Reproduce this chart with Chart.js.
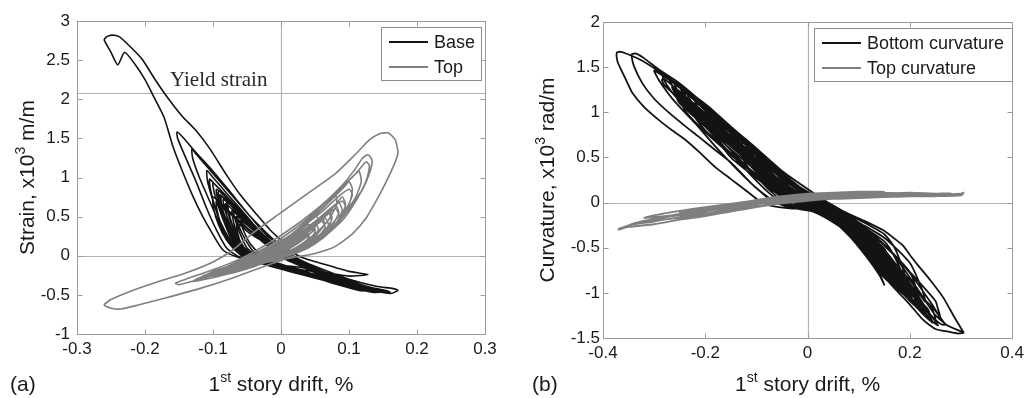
<!DOCTYPE html>
<html lang="en">
<head>
<meta charset="UTF-8">
<title>Strain and curvature vs 1st story drift</title>
<style>
  body { margin: 0; background: #fff; }
  #wrap { position: relative; width: 1029px; height: 398px; }
  canvas { position: absolute; top: 0; }
  #chartA { left: 0; }
  #chartB { left: 520px; }
</style>
</head>
<body>
<div id="wrap">
  <canvas id="chartA" width="515" height="398"></canvas>
  <canvas id="chartB" width="509" height="398"></canvas>
</div>

<script src="https://cdn.jsdelivr.net/npm/chart.js"></script>
<script>
const FONT = '"Liberation Sans", Arial, sans-serif';
const BLACK = '#131313';
const GREY = '#7f7f7f';

// ---- panel (a): strain ----
const aXTicks = [-0.3, -0.2, -0.1, 0, 0.1, 0.2, 0.3];
const aYTicks = [-1, -0.5, 0, 0.5, 1, 1.5, 2, 2.5, 3];
const yieldStrain = 2.08;
const aXTitle = [['1', false], ['st', true], [' story drift, %', false]];
const aYTitle = [['Strain, x10', false], ['3', true], [' m/m', false]];

// drift %, strain x10^3 (loop by loop)
const basePath = [
  [0.0,0.2],[-0.016,0.33],[-0.035,0.52],[-0.06,0.78],[-0.08,1.03],[-0.104,1.36],[-0.125,1.6],[-0.145,1.78],[-0.165,2.0],[-0.185,2.25],[-0.205,2.52],[-0.225,2.7],[-0.238,2.8],[-0.248,2.82],[-0.256,2.8],[-0.26,2.76],
  [-0.25,2.6],[-0.24,2.44],[-0.23,2.6],[-0.215,2.45],[-0.2,2.25],[-0.187,2.03],[-0.172,1.77],[-0.159,1.4],[-0.145,1.08],[-0.129,0.75],[-0.115,0.5],[-0.104,0.33],[-0.085,0.07],[-0.06,-0.03],[-0.02,-0.12],
  [0.02,-0.2],[0.06,-0.29],[0.1,-0.37],[0.13,-0.43],[0.15,-0.47],[0.163,-0.48],[0.172,-0.44],[0.165,-0.42],[0.14,-0.39],[0.1,-0.3],[0.06,-0.17],[0.03,-0.06],[0.01,0.05],[0.0,0.12],
  [-0.02,0.28],[-0.045,0.5],[-0.075,0.82],[-0.1,1.08],[-0.125,1.32],[-0.145,1.52],[-0.153,1.58],[-0.152,1.5],[-0.14,1.25],[-0.125,0.95],[-0.11,0.62],[-0.095,0.33],[-0.08,0.1],[-0.06,-0.02],[-0.02,-0.1],[0.03,-0.15],[0.07,-0.22],[0.1,-0.26],[0.128,-0.24],[0.1,-0.2],[0.06,-0.1],[0.03,-0.02],[0.01,0.08],
  [-0.02,0.25],[-0.05,0.55],[-0.08,0.85],[-0.105,1.1],[-0.125,1.3],[-0.131,1.37],[-0.13,1.25],[-0.12,1.0],[-0.105,0.7],[-0.09,0.4],[-0.075,0.15],[-0.05,0.0],[-0.01,-0.12],[0.04,-0.24],[0.09,-0.35],[0.13,-0.43],[0.15,-0.45],[0.12,-0.38],[0.08,-0.26],[0.04,-0.12],[0.01,0.02],
  [-0.02,0.2],[-0.05,0.5],[-0.08,0.8],[-0.1,1.0],[-0.109,1.09],[-0.108,0.95],[-0.1,0.7],[-0.09,0.45],[-0.075,0.2],[-0.06,0.02],[-0.03,-0.08],[0.02,-0.2],[0.07,-0.32],[0.11,-0.4],[0.14,-0.44],[0.115,-0.36],[0.07,-0.24],[0.03,-0.1],[0.0,0.03],
  [-0.03,0.25],[-0.06,0.55],[-0.085,0.8],[-0.1,0.93],[-0.098,0.8],[-0.09,0.58],[-0.08,0.35],[-0.068,0.12],[-0.05,-0.02],[0.0,-0.15],[0.05,-0.28],[0.1,-0.38],[0.125,-0.41],[0.1,-0.33],[0.05,-0.19],[0.02,-0.05],[0.0,0.06],
  [-0.03,0.3],[-0.06,0.58],[-0.085,0.78],[-0.095,0.85],[-0.093,0.72],[-0.085,0.5],[-0.073,0.25],[-0.06,0.06],[-0.04,-0.04],[0.01,-0.17],[0.06,-0.3],[0.1,-0.4],[0.12,-0.42],[0.09,-0.32],[0.05,-0.18],[0.02,-0.06],[-0.005,0.08],
  [-0.035,0.35],[-0.065,0.6],[-0.09,0.78],[-0.088,0.65],[-0.08,0.45],[-0.068,0.22],[-0.055,0.05],[-0.03,-0.06],[0.02,-0.18],[0.07,-0.32],[0.105,-0.39],[0.08,-0.3],[0.04,-0.16],[0.01,-0.04],[-0.01,0.1],
  [-0.04,0.38],[-0.07,0.62],[-0.085,0.72],[-0.083,0.6],[-0.075,0.4],[-0.063,0.18],[-0.05,0.03],[-0.02,-0.08],[0.03,-0.2],[0.08,-0.33],[0.11,-0.37],[0.085,-0.28],[0.045,-0.14],[0.015,-0.03],[-0.01,0.12],
  [-0.04,0.4],[-0.065,0.6],[-0.08,0.68],[-0.078,0.55],[-0.07,0.35],[-0.058,0.14],[-0.04,0.0],[0.0,-0.13],[0.05,-0.25],[0.095,-0.36],[0.07,-0.26],[0.03,-0.12],[0.0,0.0],[-0.015,0.14],
  [-0.045,0.42],[-0.07,0.6],[-0.068,0.48],[-0.06,0.28],[-0.05,0.1],[-0.03,-0.03],[0.01,-0.15],[0.06,-0.28],[0.09,-0.33],[0.06,-0.22],[0.03,-0.1],[0.0,0.02],[-0.02,0.16],
  [-0.045,0.38],[-0.065,0.5],[-0.062,0.38],[-0.052,0.2],[-0.04,0.05],[-0.02,-0.05],[0.02,-0.16],[0.06,-0.26],[0.04,-0.17],[0.01,-0.06],[-0.01,0.05],[-0.025,0.2],
  [-0.045,0.36],[-0.06,0.45],[-0.055,0.32],[-0.045,0.15],[-0.03,0.02],[-0.01,-0.08],[0.03,-0.18],[0.05,-0.2],[0.02,-0.1],[0.0,0.0],
  [-0.025,0.22],[-0.055,0.52],[-0.08,0.76],[-0.098,0.92],[-0.105,0.98],[-0.104,0.86],[-0.097,0.62],[-0.087,0.38],[-0.074,0.14],[-0.058,0.0],[-0.02,-0.12],[0.03,-0.24],[0.08,-0.35],[0.12,-0.43],[0.155,-0.46],[0.13,-0.4],[0.09,-0.3],[0.05,-0.17],[0.02,-0.05],[0.0,0.08],
  [-0.03,0.3],[-0.06,0.58],[-0.082,0.76],[-0.092,0.82],[-0.09,0.68],[-0.082,0.46],[-0.07,0.22],[-0.056,0.04],[-0.03,-0.08],[0.02,-0.2],[0.07,-0.33],[0.11,-0.42],[0.14,-0.47],[0.12,-0.42],[0.08,-0.32],[0.04,-0.18],[0.01,-0.04],[-0.01,0.1],
  [-0.04,0.38],[-0.063,0.6],[-0.078,0.7],[-0.077,0.56],[-0.07,0.36],[-0.06,0.16],[-0.046,0.02],[-0.015,-0.1],[0.03,-0.22],[0.08,-0.36],[0.12,-0.45],[0.1,-0.38],[0.06,-0.25],[0.03,-0.12],[0.0,0.0],[-0.02,0.14],
  [-0.05,0.36],[-0.08,0.6],[-0.1,0.75],[-0.099,0.6],[-0.092,0.4],[-0.08,0.2],[-0.065,0.05],[-0.04,-0.05],[0.0,-0.16],[0.05,-0.28],[0.1,-0.4],[0.135,-0.46],[0.11,-0.39],[0.07,-0.27],[0.035,-0.13],[0.01,-0.02],[-0.015,0.12],
  [-0.045,0.36],[-0.062,0.5],[-0.072,0.58],[-0.07,0.44],[-0.064,0.26],[-0.054,0.1],[-0.04,-0.02],[-0.01,-0.12],[0.04,-0.24],[0.085,-0.36],[0.11,-0.42],[0.09,-0.34],[0.05,-0.21],[0.02,-0.08],[0.0,0.04],[-0.02,0.18],
  [-0.05,0.35],[-0.072,0.52],[-0.085,0.62],[-0.084,0.5],[-0.078,0.32],[-0.068,0.14],[-0.055,0.02],[-0.03,-0.09],[0.01,-0.19],[0.06,-0.3],[0.1,-0.38],[0.13,-0.43],[0.1,-0.35],[0.06,-0.22],[0.03,-0.1],[0.005,0.02],[-0.02,0.15],
  [-0.045,0.28],[-0.065,0.42],[-0.064,0.3],[-0.058,0.14],[-0.048,0.02],[-0.025,-0.08],[0.015,-0.18],[0.06,-0.29],[0.1,-0.36],[0.075,-0.28],[0.04,-0.16],[0.015,-0.05],[-0.01,0.06],[-0.03,0.2],
  [-0.06,0.42],[-0.085,0.62],[-0.095,0.7],[-0.094,0.58],[-0.088,0.4],[-0.078,0.22],[-0.064,0.06],[-0.045,-0.04],[-0.005,-0.14],[0.045,-0.26],[0.09,-0.37],[0.125,-0.44],[0.145,-0.47],[0.12,-0.41],[0.08,-0.3],[0.04,-0.15],[0.01,-0.03],[0.0,0.0],
  [-0.03,0.26],[-0.06,0.52],[-0.08,0.7],[-0.088,0.76],[-0.087,0.62],[-0.08,0.42],[-0.07,0.2],[-0.055,0.04],[-0.03,-0.07],[0.01,-0.17],[0.06,-0.28],[0.1,-0.36],[0.14,-0.42],[0.16,-0.46],[0.14,-0.44],[0.1,-0.36],[0.06,-0.25],[0.03,-0.13],[0.005,-0.02],
  [-0.02,0.14],[-0.05,0.42],[-0.075,0.62],[-0.082,0.66],[-0.08,0.52],[-0.074,0.34],[-0.064,0.14],[-0.05,0.0],[-0.02,-0.1],[0.02,-0.2],[0.07,-0.31],[0.11,-0.39],[0.13,-0.42],[0.11,-0.36],[0.07,-0.24],[0.035,-0.11],[0.01,0.0]
];

const topPath = [
  [0.02,0.0],[-0.02,-0.12],[-0.07,-0.28],[-0.12,-0.42],[-0.17,-0.54],[-0.21,-0.63],[-0.235,-0.68],[-0.25,-0.67],[-0.26,-0.63],[-0.25,-0.56],[-0.22,-0.45],[-0.18,-0.33],[-0.14,-0.22],[-0.1,-0.08],[-0.07,0.08],[-0.04,0.3],[0.0,0.55],[0.04,0.8],[0.08,1.05],[0.11,1.3],[0.13,1.48],[0.145,1.56],[0.158,1.57],[0.168,1.48],[0.172,1.32],[0.168,1.2],[0.155,0.95],[0.14,0.7],[0.125,0.48],[0.105,0.28],[0.08,0.12],[0.05,0.03],[0.02,-0.02],
  [-0.03,-0.1],[-0.08,-0.2],[-0.12,-0.3],[-0.15,-0.37],[-0.155,-0.35],[-0.14,-0.3],[-0.1,-0.18],[-0.06,-0.04],[-0.02,0.15],[0.02,0.38],[0.06,0.65],[0.09,0.9],[0.11,1.12],[0.12,1.25],[0.128,1.29],[0.134,1.22],[0.13,1.05],[0.12,0.85],[0.1,0.6],[0.08,0.38],[0.05,0.18],[0.02,0.05],
  [-0.02,-0.05],[-0.07,-0.18],[-0.12,-0.3],[-0.115,-0.26],[-0.08,-0.14],[-0.04,0.02],[0.0,0.22],[0.04,0.48],[0.08,0.8],[0.11,1.05],[0.125,1.2],[0.13,1.15],[0.125,0.95],[0.11,0.7],[0.09,0.45],[0.06,0.22],[0.03,0.08],
  [-0.02,-0.06],[-0.07,-0.2],[-0.1,-0.26],[-0.095,-0.22],[-0.06,-0.1],[-0.02,0.08],[0.02,0.3],[0.06,0.6],[0.09,0.88],[0.11,1.05],[0.115,1.08],[0.118,0.95],[0.11,0.75],[0.09,0.5],[0.07,0.3],[0.04,0.12],
  [-0.01,-0.04],[-0.06,-0.17],[-0.09,-0.23],[-0.08,-0.18],[-0.05,-0.07],[-0.01,0.1],[0.03,0.35],[0.07,0.68],[0.095,0.9],[0.1,0.95],[0.105,0.85],[0.1,0.65],[0.08,0.4],[0.06,0.22],[0.03,0.06],
  [-0.02,-0.08],[-0.07,-0.2],[-0.085,-0.22],[-0.07,-0.15],[-0.03,-0.02],[0.01,0.15],[0.05,0.4],[0.08,0.65],[0.09,0.75],[0.095,0.65],[0.085,0.45],[0.065,0.25],[0.04,0.1],
  [0.0,-0.03],[-0.05,-0.15],[-0.08,-0.2],[-0.06,-0.12],[-0.02,0.0],[0.02,0.18],[0.05,0.4],[0.075,0.6],[0.08,0.65],[0.085,0.55],[0.075,0.38],[0.055,0.2],[0.03,0.07],
  [-0.01,-0.05],[-0.05,-0.14],[-0.07,-0.17],[-0.05,-0.08],[-0.01,0.05],[0.03,0.25],[0.06,0.48],[0.07,0.58],[0.075,0.48],[0.065,0.3],[0.045,0.16],[0.02,0.04],
  [-0.02,-0.06],[-0.06,-0.15],[-0.04,-0.07],[0.0,0.08],[0.03,0.28],[0.055,0.45],[0.06,0.5],[0.064,0.4],[0.05,0.25],[0.03,0.12],[0.0,0.0],
  [-0.04,-0.1],[-0.055,-0.12],[-0.03,-0.03],[0.01,0.12],[0.04,0.32],[0.05,0.42],[0.055,0.33],[0.04,0.2],[0.02,0.08],[-0.01,-0.02],
  [-0.05,-0.12],[-0.03,-0.05],[0.0,0.06],[0.03,0.22],[0.045,0.35],[0.05,0.3],[0.035,0.15],[0.01,0.03],[-0.02,-0.05],
  [-0.04,-0.08],[-0.02,0.0],[0.01,0.12],[0.035,0.28],[0.04,0.22],[0.02,0.08],[0.0,0.0],
  [-0.04,-0.14],[-0.09,-0.26],[-0.13,-0.33],[-0.12,-0.28],[-0.08,-0.16],[-0.04,-0.02],[0.0,0.15],[0.04,0.36],[0.07,0.58],[0.09,0.7],[0.095,0.62],[0.085,0.44],[0.065,0.26],[0.04,0.12],[0.01,0.0],
  [-0.03,-0.1],[-0.07,-0.2],[-0.1,-0.25],[-0.085,-0.19],[-0.05,-0.08],[-0.015,0.06],[0.02,0.24],[0.05,0.44],[0.075,0.62],[0.085,0.68],[0.09,0.58],[0.08,0.4],[0.06,0.22],[0.035,0.09],[0.005,-0.02],
  [-0.04,-0.12],[-0.08,-0.21],[-0.065,-0.14],[-0.03,-0.03],[0.005,0.12],[0.035,0.3],[0.06,0.5],[0.07,0.55],[0.074,0.45],[0.06,0.28],[0.04,0.15],[0.015,0.04],[-0.015,-0.06],
  [-0.06,-0.16],[-0.1,-0.22],[-0.075,-0.13],[-0.04,-0.02],[-0.005,0.1],[0.03,0.26],[0.055,0.42],[0.065,0.48],[0.07,0.38],[0.055,0.22],[0.03,0.1],[0.0,-0.01],[-0.03,-0.1],
  [-0.07,-0.18],[-0.11,-0.26],[-0.09,-0.18],[-0.055,-0.06],[-0.02,0.06],[0.02,0.22],[0.05,0.38],[0.06,0.44],[0.065,0.36],[0.05,0.2],[0.025,0.07],[-0.01,-0.04],[-0.04,-0.12],
  [-0.08,-0.22],[-0.06,-0.13],[-0.03,-0.04],[0.0,0.06],[0.025,0.18],[0.045,0.3],[0.05,0.34],[0.048,0.24],[0.03,0.12],[0.005,0.02],[-0.025,-0.07],[-0.055,-0.15],
  [-0.09,-0.2],[-0.06,-0.1],[-0.025,0.0],[0.01,0.14],[0.04,0.3],[0.065,0.5],[0.08,0.6],[0.085,0.52],[0.07,0.36],[0.045,0.2],[0.02,0.08],[-0.01,-0.03],[-0.04,-0.11],[-0.07,-0.19],[-0.09,-0.24],
  [-0.07,-0.14],[-0.04,-0.04],[-0.01,0.05],[0.02,0.16],[0.04,0.26],[0.042,0.2],[0.025,0.1],[0.0,0.02],[-0.03,-0.06],[-0.06,-0.13],
  [-0.1,-0.24],[-0.12,-0.29],[-0.1,-0.2],[-0.06,-0.08],[-0.02,0.08],[0.02,0.3],[0.06,0.56],[0.085,0.76],[0.1,0.85],[0.105,0.78],[0.095,0.58],[0.075,0.36],[0.05,0.18],[0.02,0.04],[-0.02,-0.08],[-0.06,-0.18],
  [-0.11,-0.27],[-0.095,-0.2],[-0.06,-0.06],[-0.03,0.06],[0.01,0.24],[0.045,0.5],[0.07,0.72],[0.08,0.78],[0.082,0.66],[0.07,0.46],[0.05,0.28],[0.025,0.12],[-0.005,0.0],[-0.04,-0.1],
  [-0.075,-0.17],[-0.05,-0.06],[-0.02,0.06],[0.01,0.2],[0.035,0.38],[0.05,0.52],[0.055,0.46],[0.045,0.3],[0.025,0.16],[0.0,0.05],[-0.03,-0.05],[-0.065,-0.14],
  [-0.045,-0.04],[-0.015,0.08],[0.015,0.22],[0.04,0.4],[0.045,0.36],[0.03,0.2],[0.01,0.08],[-0.02,-0.02],[-0.05,-0.09]
];

// ---- panel (b): curvature ----
const bXTicks = [-0.4, -0.2, 0, 0.2, 0.4];
const bYTicks = [-1.5, -1, -0.5, 0, 0.5, 1, 1.5, 2];
const bXTitle = [['1', false], ['st', true], [' story drift, %', false]];
const bYTitle = [['Curvature, x10', false], ['3', true], [' rad/m', false]];

// drift %, curvature x10^3 rad/m
const bottomCurvPath = [
  [0.305,-1.44],[0.285,-1.25],[0.265,-1.05],[0.24,-0.86],[0.218,-0.71],[0.2,-0.58],[0.187,-0.48],[0.17,-0.4],[0.149,-0.31],[0.11,-0.2],[0.071,-0.1],[0.04,0.0],[0.0,0.15],[-0.05,0.35],[-0.1,0.6],[-0.15,0.84],[-0.193,1.06],[-0.238,1.25],[-0.277,1.4],[-0.323,1.57],[-0.35,1.64],[-0.365,1.67],[-0.373,1.66],
  [-0.372,1.57],[-0.367,1.5],[-0.355,1.36],[-0.342,1.21],[-0.32,1.06],[-0.29,0.91],[-0.265,0.8],[-0.238,0.69],[-0.21,0.55],[-0.18,0.39],[-0.15,0.26],[-0.122,0.14],[-0.097,0.03],[-0.075,-0.03],[-0.04,-0.06],[0.0,-0.08],[0.019,-0.12],[0.045,-0.2],[0.071,-0.3],[0.095,-0.44],[0.116,-0.6],[0.14,-0.76],[0.17,-0.95],[0.2,-1.13],[0.226,-1.3],[0.25,-1.4],[0.275,-1.43],[0.295,-1.45],[0.305,-1.44],
  [0.27,-1.35],[0.24,-1.1],[0.2,-0.78],[0.165,-0.56],[0.13,-0.37],[0.1,-0.22],[0.07,-0.1],[0.04,0.0],[0.0,0.12],[-0.05,0.3],[-0.1,0.55],[-0.15,0.82],[-0.2,1.08],[-0.25,1.32],[-0.29,1.47],[-0.32,1.6],[-0.335,1.65],[-0.344,1.64],
  [-0.34,1.52],[-0.323,1.32],[-0.3,1.15],[-0.27,0.99],[-0.24,0.85],[-0.213,0.73],[-0.18,0.58],[-0.149,0.44],[-0.125,0.3],[-0.102,0.17],[-0.077,0.06],[-0.05,-0.02],[-0.02,-0.06],[0.02,-0.1],[0.05,-0.18],[0.08,-0.3],[0.11,-0.44],[0.14,-0.6],[0.17,-0.78],[0.2,-0.98],[0.225,-1.15],[0.25,-1.3],[0.262,-1.35],[0.27,-1.35],
  [0.25,-1.25],[0.22,-1.0],[0.19,-0.75],[0.16,-0.52],[0.12,-0.32],[0.08,-0.15],[0.04,-0.02],[0.0,0.1],[-0.05,0.3],[-0.1,0.56],[-0.15,0.82],[-0.2,1.06],[-0.25,1.28],[-0.29,1.43],[-0.3,1.46],
  [-0.29,1.35],[-0.26,1.12],[-0.22,0.88],[-0.18,0.62],[-0.14,0.38],[-0.1,0.16],[-0.07,0.02],[-0.03,-0.06],[0.02,-0.11],[0.05,-0.2],[0.09,-0.4],[0.13,-0.65],[0.17,-0.9],[0.21,-1.14],[0.24,-1.3],[0.255,-1.36],
  [0.235,-1.2],[0.21,-0.98],[0.18,-0.74],[0.15,-0.52],[0.11,-0.3],[0.07,-0.14],[0.03,0.0],[-0.01,0.12],[-0.06,0.34],[-0.11,0.6],[-0.16,0.86],[-0.21,1.08],[-0.25,1.27],[-0.28,1.4],[-0.285,1.42],
  [-0.275,1.3],[-0.25,1.12],[-0.21,0.9],[-0.17,0.66],[-0.13,0.42],[-0.1,0.24],[-0.07,0.08],[-0.04,-0.03],[0.0,-0.08],[0.04,-0.16],[0.08,-0.34],[0.12,-0.58],[0.16,-0.84],[0.2,-1.08],[0.23,-1.26],[0.245,-1.33],
  [0.225,-1.12],[0.2,-0.92],[0.17,-0.7],[0.14,-0.48],[0.1,-0.28],[0.06,-0.12],[0.02,0.02],[-0.02,0.15],[-0.07,0.38],[-0.12,0.64],[-0.17,0.9],[-0.22,1.13],[-0.255,1.3],[-0.27,1.36],
  [-0.255,1.2],[-0.22,1.0],[-0.18,0.76],[-0.14,0.52],[-0.105,0.32],[-0.075,0.14],[-0.045,0.0],[-0.01,-0.07],[0.03,-0.13],[0.07,-0.28],[0.11,-0.5],[0.15,-0.76],[0.19,-1.02],[0.22,-1.2],[0.235,-1.27],
  [0.215,-1.06],[0.19,-0.86],[0.16,-0.64],[0.13,-0.44],[0.09,-0.25],[0.05,-0.08],[0.01,0.06],[-0.04,0.24],[-0.09,0.5],[-0.14,0.76],[-0.19,1.0],[-0.235,1.22],[-0.25,1.28],
  [-0.235,1.14],[-0.2,0.94],[-0.16,0.7],[-0.12,0.46],[-0.09,0.27],[-0.06,0.1],[-0.03,-0.02],[0.01,-0.08],[0.05,-0.2],[0.09,-0.4],[0.13,-0.64],[0.17,-0.9],[0.2,-1.08],[0.225,-1.2],
  [0.2,-0.98],[0.175,-0.78],[0.145,-0.56],[0.11,-0.36],[0.07,-0.17],[0.03,-0.02],[-0.01,0.12],[-0.06,0.34],[-0.11,0.6],[-0.16,0.86],[-0.2,1.04],[-0.235,1.2],
  [-0.22,1.06],[-0.185,0.86],[-0.145,0.62],[-0.11,0.42],[-0.08,0.24],[-0.05,0.08],[-0.02,-0.02],[0.02,-0.09],[0.06,-0.24],[0.1,-0.46],[0.14,-0.72],[0.18,-0.96],[0.21,-1.12],
  [0.148,-0.82],[0.13,-0.62],[0.105,-0.42],[0.075,-0.24],[0.04,-0.08],[0.0,0.08],[-0.05,0.3],[-0.1,0.56],[-0.15,0.82],[-0.19,1.02],[-0.22,1.12],
  [-0.205,0.98],[-0.17,0.78],[-0.13,0.54],[-0.095,0.34],[-0.065,0.16],[-0.035,0.03],[0.0,-0.06],[0.04,-0.16],[0.08,-0.36],[0.115,-0.6],[0.14,-0.8],[0.15,-0.91],
  [0.13,-0.66],[0.1,-0.42],[0.06,-0.12],[0.02,0.03],[-0.03,0.22],[-0.08,0.48],[-0.13,0.74],[-0.175,0.96],[-0.2,1.04],
  [-0.185,0.9],[-0.15,0.7],[-0.115,0.5],[-0.085,0.3],[-0.055,0.13],[-0.025,0.02],[0.01,-0.06],[0.05,-0.2],[0.09,-0.42],[0.13,-0.66],[0.17,-0.9],[0.2,-1.05],
  [0.18,-0.86],[0.155,-0.66],[0.125,-0.46],[0.09,-0.27],[0.05,-0.1],[0.01,0.06],[-0.04,0.28],[-0.09,0.53],[-0.14,0.78],[-0.18,0.95],
  [-0.165,0.82],[-0.135,0.64],[-0.1,0.44],[-0.07,0.25],[-0.04,0.1],[-0.01,0.0],[0.03,-0.1],[0.07,-0.28],[0.11,-0.52],[0.15,-0.76],[0.19,-1.0],
  [0.17,-0.8],[0.145,-0.6],[0.115,-0.41],[0.08,-0.23],[0.04,-0.07],[0.0,0.08],[-0.05,0.32],[-0.1,0.58],[-0.16,0.86],
  [-0.145,0.74],[-0.115,0.56],[-0.085,0.38],[-0.055,0.2],[-0.025,0.06],[0.01,-0.04],[0.05,-0.17],[0.09,-0.38],[0.13,-0.62],[0.18,-0.93],
  [0.16,-0.72],[0.135,-0.54],[0.105,-0.36],[0.07,-0.19],[0.03,-0.04],[-0.01,0.12],[-0.06,0.36],[-0.11,0.62],[-0.14,0.78],
  [-0.125,0.66],[-0.095,0.48],[-0.065,0.3],[-0.035,0.14],[-0.005,0.02],[0.03,-0.08],[0.07,-0.26],[0.11,-0.5],[0.16,-0.78],
  [0.15,-0.65],[0.125,-0.48],[0.095,-0.31],[0.06,-0.15],[0.02,0.0],[-0.02,0.16],[-0.07,0.42],[-0.12,0.7],
  [-0.105,0.58],[-0.075,0.4],[-0.045,0.22],[-0.015,0.08],[0.02,-0.03],[0.06,-0.18],[0.1,-0.42],[0.14,-0.66],
  [0.13,-0.54],[0.105,-0.38],[0.075,-0.22],[0.04,-0.08],[0.0,0.07],[-0.04,0.26],[-0.08,0.47],[-0.1,0.6],
  [-0.15,0.8],[-0.2,1.02],[-0.26,1.33],[-0.25,1.19],[-0.2,0.95],[-0.15,0.7],[-0.1,0.46],[-0.05,0.21],[0.0,0.03],[0.05,-0.1],[0.1,-0.31],[0.15,-0.56],[0.2,-0.86],[0.23,-1.1],[0.225,-0.98],[0.2,-0.67],[0.15,-0.39],[0.1,-0.22],[0.05,-0.05],[0.0,0.1],[-0.05,0.3],[-0.1,0.56],[-0.15,0.79],[-0.2,1.04],[-0.24,1.22],
  [-0.23,1.08],[-0.2,0.9],[-0.15,0.65],[-0.1,0.41],[-0.05,0.17],[0.0,0.0],[0.05,-0.13],[0.1,-0.36],[0.15,-0.64],[0.2,-0.96],[0.22,-1.14],[0.215,-1.0],[0.2,-0.77],[0.15,-0.47],[0.1,-0.26],[0.05,-0.08],[0.0,0.07],[-0.05,0.26],[-0.1,0.51],[-0.15,0.74],[-0.2,0.99],[-0.22,1.08],
  [-0.21,0.96],[-0.2,0.87],[-0.15,0.62],[-0.1,0.38],[-0.05,0.14],[0.0,-0.01],[0.05,-0.14],[0.1,-0.38],[0.15,-0.68],[0.2,-1.02],[0.205,-1.08],[0.195,-0.92],[0.17,-0.6],[0.15,-0.43],[0.1,-0.24],[0.05,-0.07],[0.0,0.08],[-0.05,0.28],[-0.1,0.54],[-0.15,0.77],[-0.2,1.0],
  [-0.19,0.9],[-0.15,0.67],[-0.1,0.43],[-0.05,0.19],[0.0,0.02],[0.05,-0.12],[0.1,-0.33],[0.15,-0.6],[0.19,-0.9],[0.195,-0.95],[0.19,-0.8],[0.17,-0.5],[0.15,-0.35],[0.1,-0.19],[0.05,-0.04],[0.0,0.11],[-0.05,0.33],[-0.1,0.59],[-0.15,0.82],[-0.17,0.9],
  [-0.16,0.76],[-0.15,0.66],[-0.1,0.38],[-0.05,0.14],[0.0,-0.01],[0.05,-0.14],[0.1,-0.38],[0.15,-0.68],[0.17,-0.84],[0.165,-0.72],[0.15,-0.51],[0.1,-0.28],[0.05,-0.09],[0.0,0.05],[-0.05,0.23],[-0.1,0.48],[-0.15,0.76],
  [-0.14,0.68],[-0.1,0.41],[-0.05,0.17],[0.0,0.0],[0.05,-0.13],[0.1,-0.36],[0.14,-0.6],[0.16,-0.76],[0.155,-0.64],[0.15,-0.55],[0.125,-0.34],[0.1,-0.24],[0.05,-0.07],[0.0,0.08],[-0.05,0.28],[-0.1,0.54],[-0.13,0.72],
  [-0.125,0.6],[-0.1,0.37],[-0.05,0.13],[0.0,-0.02],[0.05,-0.15],[0.1,-0.4],[0.15,-0.71],[0.2,-1.04],[0.21,-1.1],[0.205,-0.98],[0.2,-0.91],[0.15,-0.6],[0.1,-0.33],[0.05,-0.12],[0.0,0.02],[-0.05,0.19],[-0.1,0.43],[-0.125,0.6],
  [-0.15,0.72],[-0.2,0.97],[-0.25,1.21],[-0.265,1.28],[-0.26,1.22],[-0.25,1.16],[-0.2,0.92],[-0.15,0.67],[-0.1,0.43],[-0.05,0.19],[0.0,0.02],[0.05,-0.12],[0.1,-0.33],[0.15,-0.6],[0.2,-0.91],[0.25,-1.2],[0.26,-1.28],[0.255,-1.18],[0.25,-1.09],[0.2,-0.77],[0.15,-0.47],[0.1,-0.26],[0.05,-0.08],[0.0,0.07],[-0.05,0.26],[-0.1,0.51],[-0.15,0.74],[-0.2,0.99],[-0.25,1.23],[-0.28,1.37],[-0.285,1.36],
  [-0.28,1.3],[-0.25,1.14],[-0.2,0.87],[-0.15,0.62],[-0.1,0.38],[-0.05,0.14],[0.0,-0.01],[0.05,-0.14],[0.1,-0.38],[0.15,-0.68],[0.2,-1.0],[0.24,-1.24],[0.25,-1.3],[0.245,-1.2],[0.2,-0.86],[0.15,-0.56],[0.1,-0.31],[0.05,-0.1],[0.0,0.03],[-0.05,0.21],[-0.1,0.46],
  [-0.15,0.7],[-0.2,0.95],[-0.25,1.19],[-0.255,1.15],[-0.25,1.1],[-0.2,0.84],[-0.15,0.59],[-0.1,0.35],[-0.05,0.11],[0.0,-0.03],[0.05,-0.16],[0.1,-0.41],[0.15,-0.73],[0.2,-1.05],[0.23,-1.22],[0.225,-1.12],[0.2,-0.9],[0.15,-0.62],[0.1,-0.35],[0.05,-0.13],[0.0,0.01],[-0.05,0.18],[-0.1,0.42],[-0.15,0.66],[-0.2,0.9],[-0.23,1.06],
  [-0.225,0.98],[-0.2,0.8],[-0.15,0.55],[-0.1,0.31],[-0.05,0.09],[0.0,-0.045],[0.05,-0.18],[0.1,-0.44],[0.15,-0.76],[0.2,-1.08],[0.215,-1.16],[0.21,-1.06],[0.2,-0.95],[0.15,-0.65],[0.1,-0.37],[0.05,-0.13],[0.0,0.0],[-0.05,0.17],[-0.1,0.4],[-0.15,0.64],[-0.2,0.88],
  [-0.19,0.8],[-0.15,0.5],[-0.1,0.27],[-0.05,0.06],[0.0,-0.06],[0.05,-0.2],[0.1,-0.48],[0.15,-0.8],[0.18,-0.98],[0.175,-0.88],[0.15,-0.69],[0.1,-0.39],[0.05,-0.14],[0.0,0.0],[-0.05,0.16],[-0.1,0.39],[-0.15,0.63],[-0.18,0.78],
  [-0.165,0.6],[-0.13,0.44],[-0.1,0.29],[-0.05,0.07],[0.0,-0.05],[0.05,-0.19],[0.1,-0.46],[0.15,-0.78],[0.2,-1.09],[0.24,-1.28],[0.235,-1.18],[0.2,-0.98],[0.15,-0.66],[0.1,-0.38],[0.05,-0.14],[0.0,0.01],[-0.05,0.2],[-0.1,0.44],[-0.15,0.68],[-0.2,0.92],[-0.24,1.12],[-0.245,1.1],
  [-0.24,1.02],[-0.2,0.78],[-0.15,0.53],[-0.1,0.3],[-0.05,0.08],[0.0,-0.05],[0.05,-0.19],[0.1,-0.45],[0.13,-0.64],[0.125,-0.55],[0.1,-0.36],[0.05,-0.12],[0.0,0.02],[-0.05,0.2],[-0.1,0.45],[-0.14,0.66],
  [-0.12,0.42],[-0.1,0.3],[-0.05,0.08],[0.0,-0.04],[0.05,-0.17],[0.1,-0.42],[0.15,-0.74],[0.19,-1.0],[0.22,-1.18],[0.215,-1.08],[0.19,-0.88],[0.15,-0.6],[0.1,-0.33],[0.05,-0.12],[0.0,0.03]
];

const topCurvPath = [
  [-0.37,-0.29],[-0.34,-0.24],[-0.3,-0.21],[-0.25,-0.16],[-0.2,-0.12],[-0.15,-0.07],[-0.1,-0.02],[-0.05,0.03],[0.0,0.06],[0.05,0.08],[0.1,0.08],[0.15,0.09],[0.2,0.1],[0.25,0.09],[0.3,0.1],[0.305,0.11],
  [0.3,0.08],[0.25,0.07],[0.2,0.07],[0.15,0.06],[0.1,0.05],[0.05,0.04],[0.0,0.02],[-0.05,-0.01],[-0.1,-0.05],[-0.15,-0.1],[-0.2,-0.15],[-0.25,-0.19],[-0.3,-0.24],[-0.35,-0.27],[-0.37,-0.3],
  [-0.34,-0.23],[-0.3,-0.18],[-0.25,-0.14],[-0.2,-0.1],[-0.15,-0.05],[-0.1,0.0],[-0.05,0.04],[0.0,0.04],[0.05,0.07],[0.1,0.09],[0.15,0.1],[0.2,0.11],[0.25,0.1],[0.28,0.1],
  [0.25,0.08],[0.2,0.08],[0.15,0.07],[0.1,0.06],[0.05,0.05],[0.0,0.03],[-0.05,0.0],[-0.1,-0.04],[-0.15,-0.08],[-0.2,-0.13],[-0.25,-0.17],[-0.3,-0.2],[-0.34,-0.23],
  [-0.3,-0.19],[-0.25,-0.13],[-0.18,-0.07],[-0.12,-0.01],[-0.06,0.05],[0.0,0.08],[0.05,0.09],[0.1,0.1],[0.15,0.11],[0.2,0.1],[0.22,0.1],
  [0.18,0.08],[0.12,0.07],[0.06,0.06],[0.0,0.05],[-0.05,0.02],[-0.1,-0.02],[-0.15,-0.06],[-0.2,-0.09],
  [-0.14,-0.03],[-0.08,0.03],[-0.02,0.08],[0.05,0.1],[0.12,0.11],[0.16,0.1],[0.1,0.08],[0.04,0.07],[-0.02,0.05],[-0.08,0.0],[-0.12,-0.03],
  [-0.06,0.04],[0.0,0.09],[0.08,0.11],[0.12,0.1],[0.06,0.08],[0.0,0.06],
  [-0.05,0.05],[-0.1,0.01],[-0.15,-0.04],[-0.2,-0.08],[-0.25,-0.11],[-0.2,-0.06],[-0.15,-0.02],[-0.1,0.03],[-0.05,0.07],[0.0,0.1],[0.05,0.11],[0.1,0.12],[0.15,0.12],[0.1,0.1],[0.05,0.09],[0.0,0.08],[-0.05,0.06],[-0.1,0.02],[-0.15,-0.03],[-0.22,-0.1],[-0.28,-0.15],[-0.32,-0.17],
  [-0.28,-0.12],[-0.2,-0.05],[-0.12,0.01],[-0.06,0.05],[0.0,0.09],[0.06,0.1],[0.12,0.09],[0.2,0.09],[0.26,0.09],[0.2,0.08],[0.12,0.08],[0.05,0.07],[0.0,0.04]
];

const toXY = path => path.map(([x, y]) => ({ x, y }));

function drawRich(ctx, parts, x, y, size) {
  const supSize = Math.round(size * 0.68);
  let w = 0;
  parts.forEach(([t, sup]) => {
    ctx.font = (sup ? supSize : size) + 'px ' + FONT;
    w += ctx.measureText(t).width;
  });
  let cx = x - w / 2;
  ctx.textAlign = 'left';
  ctx.textBaseline = 'alphabetic';
  parts.forEach(([t, sup]) => {
    ctx.font = (sup ? supSize : size) + 'px ' + FONT;
    ctx.fillText(t, cx, sup ? y - size * 0.42 : y);
    cx += ctx.measureText(t).width;
  });
}

// zero lines, frame with inward ticks, legend box, titles
const panelDeco = {
  id: 'panelDeco',
  beforeDatasetsDraw(chart, args, o) {
    const { ctx, chartArea: a, scales: { x, y } } = chart;
    ctx.save();
    ctx.strokeStyle = '#b2b2b2';
    ctx.lineWidth = 1.2;
    ctx.beginPath();
    const x0 = Math.round(x.getPixelForValue(0)) + 0.5;
    ctx.moveTo(x0, a.top); ctx.lineTo(x0, a.bottom);
    [0].concat(o.hLines || []).forEach(v => {
      const py = Math.round(y.getPixelForValue(v)) + 0.5;
      ctx.moveTo(a.left, py); ctx.lineTo(a.right, py);
    });
    ctx.stroke();
    ctx.restore();
  },
  afterDatasetsDraw(chart, args, o) {
    const { ctx, chartArea: a, scales: { x, y } } = chart;
    ctx.save();
    ctx.strokeStyle = '#9c9c9c';
    ctx.lineWidth = 1;
    const L = Math.round(a.left) + 0.5, R = Math.round(a.right) + 0.5;
    const T = Math.round(a.top) + 0.5, B = Math.round(a.bottom) + 0.5;
    ctx.strokeRect(L, T, R - L, B - T);
    ctx.beginPath();
    x.ticks.forEach(t => {
      const px = Math.round(x.getPixelForValue(t.value)) + 0.5;
      ctx.moveTo(px, B); ctx.lineTo(px, B - 5);
      ctx.moveTo(px, T); ctx.lineTo(px, T + 5);
    });
    y.ticks.forEach(t => {
      const py = Math.round(y.getPixelForValue(t.value)) + 0.5;
      ctx.moveTo(L, py); ctx.lineTo(L + 5, py);
      ctx.moveTo(R, py); ctx.lineTo(R - 5, py);
    });
    ctx.stroke();

    // legend
    const [bx, by, bw, bh] = o.legendBox;
    ctx.fillStyle = '#fff';
    ctx.fillRect(bx, by, bw, bh);
    ctx.strokeStyle = '#8c8c8c';
    ctx.strokeRect(bx + 0.5, by + 0.5, bw, bh);
    ctx.font = '18px ' + FONT;
    ctx.textAlign = 'left';
    ctx.textBaseline = 'middle';
    chart.data.datasets.forEach((ds, i) => {
      const ly = by + 15 + i * 25;
      ctx.strokeStyle = ds.borderColor;
      ctx.lineWidth = 2;
      ctx.beginPath();
      ctx.moveTo(bx + 8, ly); ctx.lineTo(bx + 47, ly);
      ctx.stroke();
      ctx.fillStyle = '#1a1a1a';
      ctx.fillText(ds.label, bx + 53, ly + 1);
    });
    ctx.restore();
  },
  afterDraw(chart, args, o) {
    const { ctx, chartArea: a } = chart;
    ctx.save();
    ctx.fillStyle = '#1a1a1a';
    drawRich(ctx, o.xTitle, (a.left + a.right) / 2, 391, 21);
    ctx.save();
    ctx.translate(o.yTitleX, (a.top + a.bottom) / 2);
    ctx.rotate(-Math.PI / 2);
    drawRich(ctx, o.yTitle, 0, 7, 21);
    ctx.restore();
    ctx.font = '21px ' + FONT;
    ctx.textAlign = 'left';
    ctx.textBaseline = 'alphabetic';
    ctx.fillText(o.letter, o.letterX, 391);
    if (o.note) {
      ctx.font = '21px "Liberation Serif", "Times New Roman", serif';
      ctx.fillStyle = '#2a2a2a';
      ctx.fillText(o.note.text, o.note.x, chart.scales.y.getPixelForValue(o.note.value) - 7);
    }
    ctx.restore();
  }
};

function makePanel(id, p) {
  const tickFont = { family: FONT, size: 17 };
  return new Chart(document.getElementById(id), {
    type: 'scatter',
    data: {
      datasets: p.series.map(s => ({
        label: s.label,
        data: toXY(s.path),
        borderColor: s.color,
        borderWidth: s.width,
        pointRadius: 0,
        showLine: true,
        tension: 0.2,
        order: s.order
      }))
    },
    options: {
      responsive: false,
      animation: false,
      layout: { padding: { top: p.top, right: p.right, left: 0, bottom: 0 } },
      plugins: {
        legend: { display: false },
        tooltip: { enabled: false },
        panelDeco: p.deco
      },
      scales: {
        x: {
          type: 'linear', min: p.xTicks[0], max: p.xTicks[p.xTicks.length - 1],
          afterBuildTicks: s => { s.ticks = p.xTicks.map(v => ({ value: v })); },
          afterFit: s => { s.height = p.xHeight; },
          grid: { display: false, drawTicks: false },
          border: { display: false },
          ticks: { font: tickFont, color: '#1a1a1a', padding: 5, maxRotation: 0, autoSkip: false, callback: v => String(v) }
        },
        y: {
          type: 'linear', min: p.yTicks[0], max: p.yTicks[p.yTicks.length - 1],
          afterBuildTicks: s => { s.ticks = p.yTicks.map(v => ({ value: v })); },
          afterFit: s => { s.width = p.yWidth; },
          grid: { display: false, drawTicks: false },
          border: { display: false },
          ticks: { font: tickFont, color: '#1a1a1a', padding: p.yPad, autoSkip: false, callback: v => String(v) }
        }
      }
    },
    plugins: [panelDeco]
  });
}

makePanel('chartA', {
  xTicks: aXTicks, yTicks: aYTicks,
  top: 21, right: 30, xHeight: 64, yWidth: 77, yPad: 7,
  series: [
    { label: 'Base', path: basePath, color: BLACK, width: 1.6, order: 2 },
    { label: 'Top', path: topPath, color: GREY, width: 1.6, order: 1 }
  ],
  deco: {
    hLines: [yieldStrain],
    legendBox: [381, 27, 100, 53],
    xTitle: aXTitle, yTitle: aYTitle, yTitleX: 27,
    letter: '(a)', letterX: 10,
    note: { text: 'Yield strain', x: 170, value: yieldStrain }
  }
});

makePanel('chartB', {
  xTicks: bXTicks, yTicks: bYTicks,
  top: 22, right: 12, xHeight: 60, yWidth: 83, yPad: 3,
  series: [
    { label: 'Bottom curvature', path: bottomCurvPath, color: BLACK, width: 1.8, order: 2 },
    { label: 'Top curvature', path: topCurvPath, color: GREY, width: 1.8, order: 1 }
  ],
  deco: {
    legendBox: [294, 28, 198, 53],
    xTitle: bXTitle, yTitle: bYTitle, yTitleX: 27,
    letter: '(b)', letterX: 12
  }
});
</script>
</body>
</html>
